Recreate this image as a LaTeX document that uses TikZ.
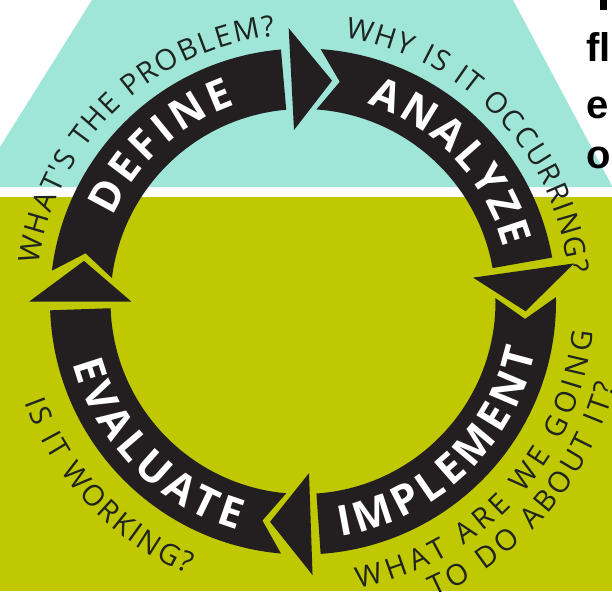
\documentclass[tikz,border=0pt]{standalone}
\usepackage{fontspec}
\usepackage{tikz}
\usetikzlibrary{decorations.text}

\newfontfamily\cyclefont{Open Sans}
\newfontfamily\pagefont{Liberation Sans}
\definecolor{tealbg}{HTML}{A0E6D8}
\definecolor{olivebg}{HTML}{BFC800}
\definecolor{ringdark}{HTML}{231F20}
\definecolor{questxt}{HTML}{1F2421}

\newcommand{\labelfont}{\cyclefont\bfseries\fontsize{42}{42}\selectfont}
\newcommand{\questfont}{\cyclefont\fontsize{29}{29}\selectfont}

% ring piece: notch corner angle, notch apex angle, end angle
\newcommand{\ringpart}[3]{%
  \fill[ringdark] (#1:253) arc[start angle=#1, end angle=#3, radius=253]
    -- (#3:192.5) arc[start angle=#3, end angle=#1, radius=192.5] -- (#2:222.75) -- cycle;}
% arrowhead: base angle
\newcommand{\ringarrow}[1]{%
  \fill[ringdark] (#1:171.75) -- (#1:273.75) -- ({#1-10.5}:222.75) -- cycle;}

\tikzset{
  ringlabel/.style={decorate, decoration={text along path, text align=fit to path, text color=white}},
  question/.style={decorate, decoration={text along path, text align=fit to path, text color=questxt}},
  pagetext/.style={anchor=base west, inner sep=0pt, font=\pagefont\bfseries\fontsize{40}{40}\selectfont}
}

\begin{document}
\begin{tikzpicture}[x=1pt,y=1pt]
    \useasboundingbox (0,0) rectangle (612,-591);
    \clip (0,0) rectangle (612,-591);

    % Background
    \fill[white] (0,0) rectangle (612,-591);
    \fill[tealbg] (92,0) -- (513,0) -- (612,-186) -- (612,-187) -- (0,-187) -- (0,-147) -- cycle;
    \fill[olivebg] (0,-197) rectangle (612,-591);

    % Page text cut at the right edge
    \fill[black] (600,0) rectangle (607,-10);
    \node (fl) [pagetext] at (586,-62) {fl};
    \node (e) [pagetext] at (586,-118) {e};
    \node (o) [pagetext] at (586,-168) {o};

    \begin{scope}[shift={(303,-301.5)}]
        % Ring pieces
        \ringpart{173}{167.5}{95}
        \ringpart{86}{80.5}{10}
        \ringpart{1}{-4.5}{-86}
        \ringpart{265}{259.5}{182}

        % Arrowheads
        \ringarrow{93}
        \ringarrow{8}
        \ringarrow{-88}
        \ringarrow{180}

        % Step names
        \path[ringlabel, decoration={text={|\labelfont|DEFINE}}] (156:208) arc[start angle=156, end angle=109, radius=208];
        \path[ringlabel, decoration={text={|\labelfont|ANALYZE}}] (72:208) arc[start angle=72, end angle=15, radius=208];
        \path[ringlabel, decoration={text={|\labelfont|IMPLEMENT}}] (-81:238) arc[start angle=-81, end angle=-12, radius=238];
        \path[ringlabel, decoration={text={|\labelfont|EVALUATE}}] (195:238) arc[start angle=195, end angle=254, radius=238];

        % Questions
        \path[question, decoration={text={|\questfont|WHAT'S THE PROBLEM?}}] (172:267) arc[start angle=172, end angle=96, radius=267];
        \path[question, decoration={text={|\questfont|WHY IS IT OCCURRING?}}] (81:267) arc[start angle=81, end angle=6, radius=267];
        \path[question, decoration={text={|\questfont|IS IT WORKING?}}] (200:296) arc[start angle=200, end angle=247, radius=296];
        \path[question, decoration={text={|\questfont|WHAT ARE WE GOING}}] (-79:292) arc[start angle=-79, end angle=-6, radius=292];
        \path[question, decoration={text={|\questfont|TO DO ABOUT IT?}}] (-66:324) arc[start angle=-66, end angle=-15, radius=324];
    \end{scope}
\end{tikzpicture}
\end{document}
